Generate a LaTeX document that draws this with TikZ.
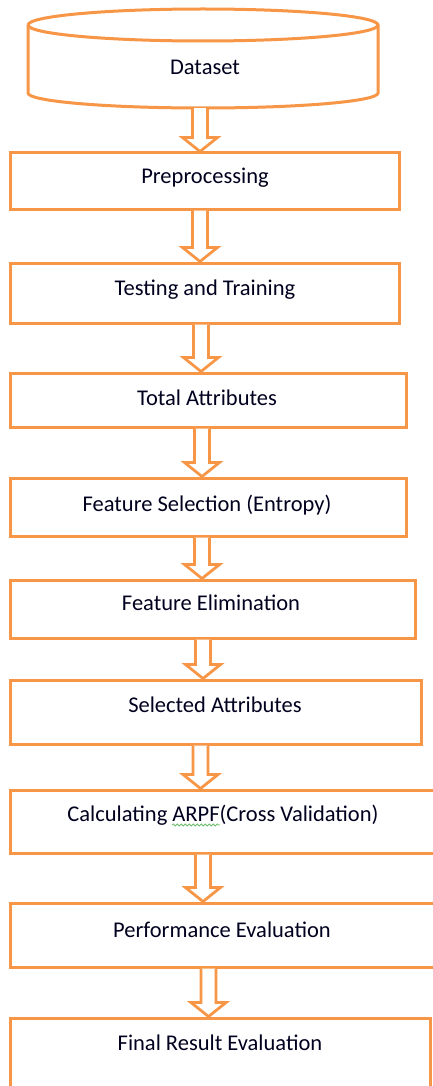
\documentclass[tikz,border=0pt]{standalone}
\usepackage{fontspec}
\setmainfont{Carlito}
\usetikzlibrary{calc,decorations.pathmorphing}
\definecolor{boxorange}{HTML}{F79646}
\definecolor{spellgreen}{HTML}{6CBF6C}
\tikzset{
  box/.style={draw=boxorange, line width=3pt, fill=white, rectangle, inner sep=0pt},
  txt/.style={font=\fontsize{22.5}{26}\selectfont, text=black!88!blue, inner sep=0pt},
  blockarr/.style={draw=boxorange, line width=2.8pt, line join=miter, fill=white},
  squiggle/.style={draw=spellgreen, line width=0.8pt, decorate, decoration={snake, amplitude=1pt, segment length=4pt}},
}
% \barrow{from}{to}{x}
\newcommand{\barrow}[3]{%
  \draw[blockarr] let \p1=(#1.south), \p2=(#2.north) in
    (#3-7.5,\y1) -- (#3-7.5,\y2+14) -- (#3-17.5,\y2+14) -- (#3,\y2) -- (#3+17.5,\y2+14) -- (#3+7.5,\y2+14) -- (#3+7.5,\y1);
}
\begin{document}
\begin{tikzpicture}[x=1pt,y=-1pt]
\useasboundingbox (0,0) rectangle (433,1086);
% cylinder
\draw[draw=boxorange, line width=3pt, fill=white]
  (28,25) -- (28,93) arc[start angle=180, end angle=0, x radius=175, y radius=15] -- (378,25);
\draw[draw=boxorange, line width=3pt]
  (28,25) arc[start angle=180, end angle=-180, x radius=175, y radius=16];
\node[inner sep=0pt, minimum width=350pt, minimum height=99pt] (ds) at (203,58.5) {};
\node[txt] (dst) at (205,67) {Dataset};
% boxes
\node[box, minimum width=389pt, minimum height=56pt] (b1) at (204.5,181) {};
\node[txt] (t1) at (205,178) {Preprocessing};
\node[box, minimum width=389pt, minimum height=60pt] (b2) at (204.5,293) {};
\node[txt] (t2) at (205,290) {Testing and Training};
\node[box, minimum width=396pt, minimum height=54pt] (b3) at (208,400) {};
\node[txt] (t3) at (207,398) {Total Attributes};
\node[box, minimum width=396pt, minimum height=58pt] (b4) at (208,507) {};
\node[txt] (t4) at (207,505) {Feature Selection (Entropy)};
\node[box, minimum width=405pt, minimum height=58pt] (b5) at (212.5,609) {};
\node[txt] (t5) at (211,603) {Feature Elimination};
\node[box, minimum width=411pt, minimum height=64pt] (b6) at (215.5,712) {};
\node[txt] (t6) at (215,705) {Selected Attributes};
\node[box, minimum width=430pt, minimum height=63pt] (b7) at (225,821.5) {};
\node[txt] (t7) at (223,815) {Calculating ARPF(Cross Validation)};
\coordinate (sq1) at (172,825);
\coordinate (sq2) at (220,825);
\draw[squiggle] (sq1) -- (sq2);
\node[box, minimum width=430pt, minimum height=64pt] (b8) at (225,935) {};
\node[txt] (t8) at (222,930) {Performance Evaluation};
\node[box, minimum width=420pt, minimum height=82pt] (b9) at (220,1059) {};
\node[txt] (t9) at (220,1043) {Final Result Evaluation};
% arrows
\barrow{ds}{b1}{200}
\barrow{b1}{b2}{200}
\barrow{b2}{b3}{201}
\barrow{b3}{b4}{202}
\barrow{b4}{b5}{202}
\barrow{b5}{b6}{203}
\barrow{b6}{b7}{200.5}
\barrow{b7}{b8}{203}
\barrow{b8}{b9}{208.5}
\end{tikzpicture}
\end{document}
